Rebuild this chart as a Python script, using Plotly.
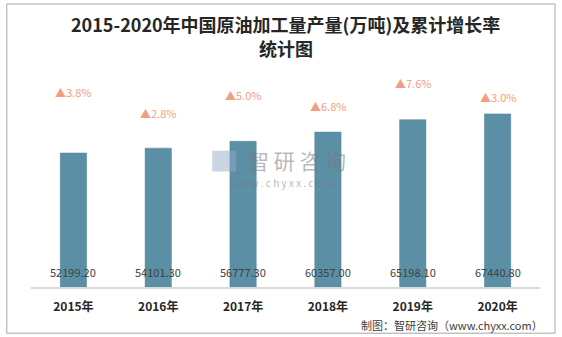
import plotly.graph_objects as go

years = ["2015年", "2016年", "2017年", "2018年", "2019年", "2020年"]
output = [52199.20, 54101.30, 56777.30, 60357.00, 65198.10, 67440.80]
growth = [3.8, 2.8, 5.0, 6.8, 7.6, 3.0]

# layout helper: height (in axis units) where each growth label is drawn
growth_label_y = [76000, 67800, 74800, 70500, 79500, 74000]

FONT = "Noto Sans CJK SC, Noto Sans, sans-serif"
BAR = "#5b8fa6"

fig = go.Figure()
fig.add_trace(go.Bar(
    x=years, y=output, marker=dict(color=BAR, line=dict(color="#4f8099", width=0.5)),
    width=0.31, hoverinfo="skip"))

anns = []
for yr, v in zip(years, output):
    anns.append(dict(x=yr, y=0, xref="x", yref="y", text=f"{v:.2f}", showarrow=False,
                     yanchor="bottom", yshift=5, font=dict(family=FONT, size=11, color="#404040")))
for yr, g, gy in zip(years, growth, growth_label_y):
    anns.append(dict(x=yr, y=gy, xref="x", yref="y", text=f"▲{g:.1f}%", showarrow=False,
                     yanchor="middle", font=dict(family=FONT, size=11, color="#f0a080")))

# title (two lines)
anns.append(dict(xref="paper", yref="paper", x=0.5, y=1.1385, yanchor="middle", showarrow=False,
                 text="<b>2015-2020年中国原油加工量产量(万吨)及累计增长率</b>",
                 font=dict(family=FONT, size=18, color="#262626")))
anns.append(dict(xref="paper", yref="paper", x=0.5, y=1.0346, yanchor="middle", showarrow=False,
                 text="<b>统计图</b>",
                 font=dict(family=FONT, size=18, color="#262626")))
# watermark
anns.append(dict(xref="paper", yref="paper", x=0.523, y=0.55, yanchor="middle", showarrow=False,
                 text="智 研 咨 询", font=dict(family=FONT, size=21, color="rgba(120,120,120,0.55)")))
anns.append(dict(xref="paper", yref="paper", x=0.493, y=0.452, yanchor="middle", showarrow=False,
                 text="w w w . c h y x x . c o m", font=dict(family=FONT, size=10, color="rgba(120,120,120,0.55)")))
# source
anns.append(dict(xref="paper", yref="paper", x=1.01, y=0, yanchor="top", xanchor="right", yshift=-28,
                 showarrow=False, text="制图：智研咨询（www.chyxx.com）",
                 font=dict(family="Noto Sans CJK SC, sans-serif", size=11, color="#404040")))

fig.update_layout(
    width=562, height=337,
    margin=dict(l=31, r=22, t=56, b=50),
    paper_bgcolor="white", plot_bgcolor="white",
    showlegend=False,
    bargap=0.69,
    annotations=anns,
    shapes=[
        dict(type="rect", xref="paper", yref="paper", x0=-0.0475, x1=1.0295, y0=-0.2, y1=1.225,
             line=dict(color="#a6a6a6", width=1), layer="below"),
        dict(type="rect", xref="paper", yref="paper", x0=0.356, x1=0.403, y0=0.50, y1=0.59,
             fillcolor="rgba(150,170,200,0.5)", line=dict(width=0), layer="above"),
    ],
    xaxis=dict(showline=True, linecolor="#d9d9d9", linewidth=2, ticks="",
               tickfont=dict(family=FONT, size=12, color="#262626", weight="bold"),
               ticklabelstandoff=8),
    yaxis=dict(range=[0, 90000], visible=False),
)
fig.write_html("out.html")
